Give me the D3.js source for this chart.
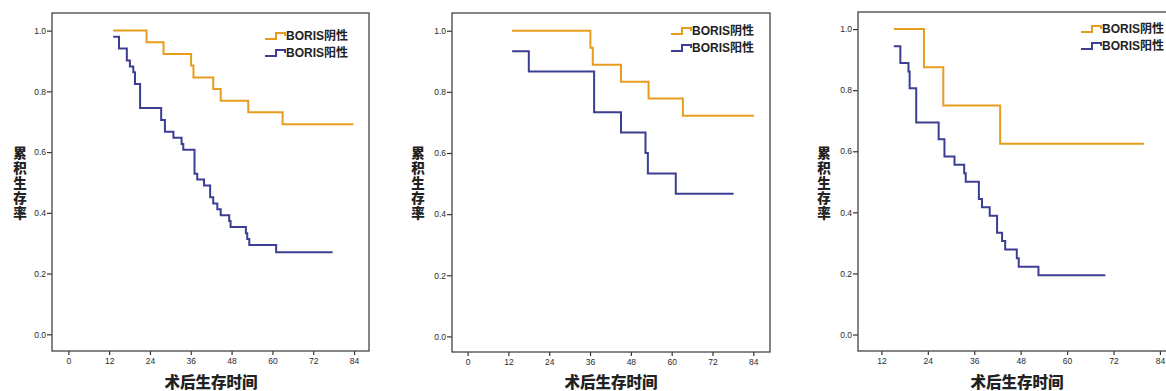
<!DOCTYPE html>
<html>
<head>
<meta charset="utf-8">
<script src="https://cdn.jsdelivr.net/npm/d3@7"></script>
<style>
  body { margin: 0; background: #fff; }
  svg { display: block; }
</style>
</head>
<body>
<div id="chart"></div>
<script>
// survival curves (months, cumulative survival)
// panel 1
var p1NegTimes = [13.2, 23.0, 28.0, 36.1, 36.8, 42.6, 44.8, 52.9, 63.0, 83.8]
var p1NegSurv = [1.0, 0.962, 0.923, 0.885, 0.846, 0.808, 0.769, 0.731, 0.692, 0.692]
var p1PosTimes = [13.2, 14.9, 17.2, 18.1, 19.1, 19.6, 21.1, 27.3, 28.4, 30.9, 33.3, 33.8, 37.1, 37.9, 39.9, 41.7, 42.6, 43.8, 44.8, 47.3, 47.7, 52.2, 52.6, 53.2, 61.1, 77.7]
var p1PosSurv = [0.980, 0.941, 0.902, 0.882, 0.863, 0.824, 0.745, 0.706, 0.667, 0.647, 0.627, 0.608, 0.529, 0.510, 0.490, 0.451, 0.431, 0.412, 0.392, 0.373, 0.353, 0.333, 0.314, 0.294, 0.270, 0.270]
// panel 2
var p2NegTimes = [13.1, 36.1, 36.8, 45.1, 53.2, 63.3, 84.2]
var p2NegSurv = [1.0, 0.944, 0.889, 0.833, 0.778, 0.722, 0.722]
var p2PosTimes = [13.1, 18.0, 37.2, 45.1, 52.3, 53.0, 61.2, 78.2]
var p2PosSurv = [0.933, 0.867, 0.733, 0.667, 0.600, 0.533, 0.467, 0.467]
// panel 3
var p3NegTimes = [15.2, 23.0, 28.0, 42.7, 79.9]
var p3NegSurv = [1.0, 0.875, 0.750, 0.625, 0.625]
var p3PosTimes = [15.2, 16.9, 19.0, 19.3, 21.0, 26.8, 28.3, 30.9, 33.4, 33.8, 37.2, 38.0, 40.0, 41.9, 43.2, 44.0, 47.0, 47.5, 52.6, 69.9]
var p3PosSurv = [0.944, 0.889, 0.861, 0.806, 0.694, 0.639, 0.583, 0.556, 0.528, 0.500, 0.444, 0.417, 0.389, 0.333, 0.306, 0.278, 0.250, 0.222, 0.194, 0.194]

var legendLabels = ['BORIS阴性', 'BORIS阳性']
var xTicksFull = [0, 12, 24, 36, 48, 60, 72, 84]
var xTicksShort = [12, 24, 36, 48, 60, 72, 84]
var yTicks = [0, 0.2, 0.4, 0.6, 0.8, 1.0]
var yTitle = '累积生存率'
var xTitle = '术后生存时间'

var negColor = '#e69d1e'
var posColor = '#3b3e92'

// frame box of each panel plus the axis domain it shows
var panels = [
  { left: 52, right: 369, top: 13, bottom: 351, xLo: -4.8, xHi: 88.4, yLo: -0.055, yHi: 1.058,
    xTicks: xTicksFull, neg: [p1NegTimes, p1NegSurv], pos: [p1PosTimes, p1PosSurv],
    legX: 265, legY: 36, yTitleX: 20, xTitleX: 211 },
  { left: 452, right: 770, top: 13, bottom: 352, xLo: -4.58, xHi: 88.9, yLo: -0.051, yHi: 1.058,
    xTicks: xTicksFull, neg: [p2NegTimes, p2NegSurv], pos: [p2PosTimes, p2PosSurv],
    legX: 671, legY: 31, yTitleX: 418, xTitleX: 611 },
  { left: 858, right: 1175, top: 12, bottom: 351, xLo: 5.95, xHi: 87.9, yLo: -0.054, yHi: 1.056,
    xTicks: xTicksShort, neg: [p3NegTimes, p3NegSurv], pos: [p3PosTimes, p3PosSurv],
    legX: 1081, legY: 29, yTitleX: 824, xTitleX: 1017 }
]

var width = 1166
var height = 391

var svg = d3.select('#chart')
  .append('svg')
  .attr('width', width)
  .attr('height', height)

function zipSeries(times, surv) {
  return times.map(function (t, i) { return [t, surv[i]] })
}

panels.forEach(function (p) {
  var x = d3.scaleLinear().domain([p.xLo, p.xHi]).range([p.left, p.right])
  var y = d3.scaleLinear().domain([p.yLo, p.yHi]).range([p.bottom, p.top])
  var g = svg.append('g')

  // y axis ticks
  var yAxis = g.append('g')
    .attr('transform', 'translate(' + p.left + ',0)')
    .call(d3.axisLeft(y).tickValues(yTicks).tickFormat(d3.format('.1f')).tickSize(5).tickSizeOuter(0).tickPadding(1))
  yAxis.select('.domain').remove()

  // x axis ticks
  var xAxis = g.append('g')
    .attr('transform', 'translate(0,' + p.bottom + ')')
    .call(d3.axisBottom(x).tickValues(p.xTicks).tickSize(4).tickSizeOuter(0).tickPadding(3))
  xAxis.select('.domain').remove()

  g.selectAll('.tick line').attr('stroke', '#333').attr('stroke-width', 1.2)
  g.selectAll('.tick text')
    .attr('fill', '#2a2a2a')
    .style('font-family', 'Arial, "Liberation Sans", sans-serif')
    .style('font-size', '8.5px')

  // frame
  g.append('rect')
    .attr('x', p.left)
    .attr('y', p.top)
    .attr('width', p.right - p.left)
    .attr('height', p.bottom - p.top)
    .attr('fill', 'none')
    .attr('stroke', '#444')
    .attr('stroke-width', 1.3)

  var line = d3.line()
    .x(function (d) { return x(d[0]) })
    .y(function (d) { return y(d[1]) })
    .curve(d3.curveStepAfter)

  g.append('path')
    .datum(zipSeries(p.neg[0], p.neg[1]))
    .attr('d', line)
    .attr('fill', 'none')
    .attr('stroke', negColor)
    .attr('stroke-width', 2)

  g.append('path')
    .datum(zipSeries(p.pos[0], p.pos[1]))
    .attr('d', line)
    .attr('fill', 'none')
    .attr('stroke', posColor)
    .attr('stroke-width', 2)

  // legend with the little step glyph
  var colors = [negColor, posColor]
  legendLabels.forEach(function (lab, i) {
    var ly = p.legY + i * 17
    g.append('path')
      .attr('d', 'M' + p.legX + ',' + (ly + 3) + 'h11v-6h9v3')
      .attr('fill', 'none')
      .attr('stroke', colors[i])
      .attr('stroke-width', 2)
    g.append('text')
      .attr('x', p.legX + 21)
      .attr('y', ly)
      .attr('dy', '0.36em')
      .attr('fill', '#222')
      .style('font-family', 'Arial, "Liberation Sans", "Noto Sans CJK SC", sans-serif')
      .style('font-weight', 'bold')
      .style('font-size', '12px')
      .text(lab)
  })

  // vertical y title, one character per line
  var yt = g.append('text')
    .attr('fill', '#222')
    .attr('text-anchor', 'middle')
    .style('font-family', '"Noto Sans CJK SC", sans-serif')
    .style('font-weight', '900')
    .style('font-size', '13.5px')
  yTitle.split('').forEach(function (ch, i) {
    yt.append('tspan')
      .attr('x', p.yTitleX)
      .attr('y', 153 + i * 15)
      .attr('dy', '0.36em')
      .text(ch)
  })

  g.append('text')
    .attr('x', p.xTitleX)
    .attr('y', 382)
    .attr('dy', '0.36em')
    .attr('text-anchor', 'middle')
    .attr('fill', '#222')
    .style('font-family', '"Noto Sans CJK SC", sans-serif')
    .style('font-weight', '900')
    .style('font-size', '15.5px')
    .text(xTitle)
})
</script>
</body>
</html>
